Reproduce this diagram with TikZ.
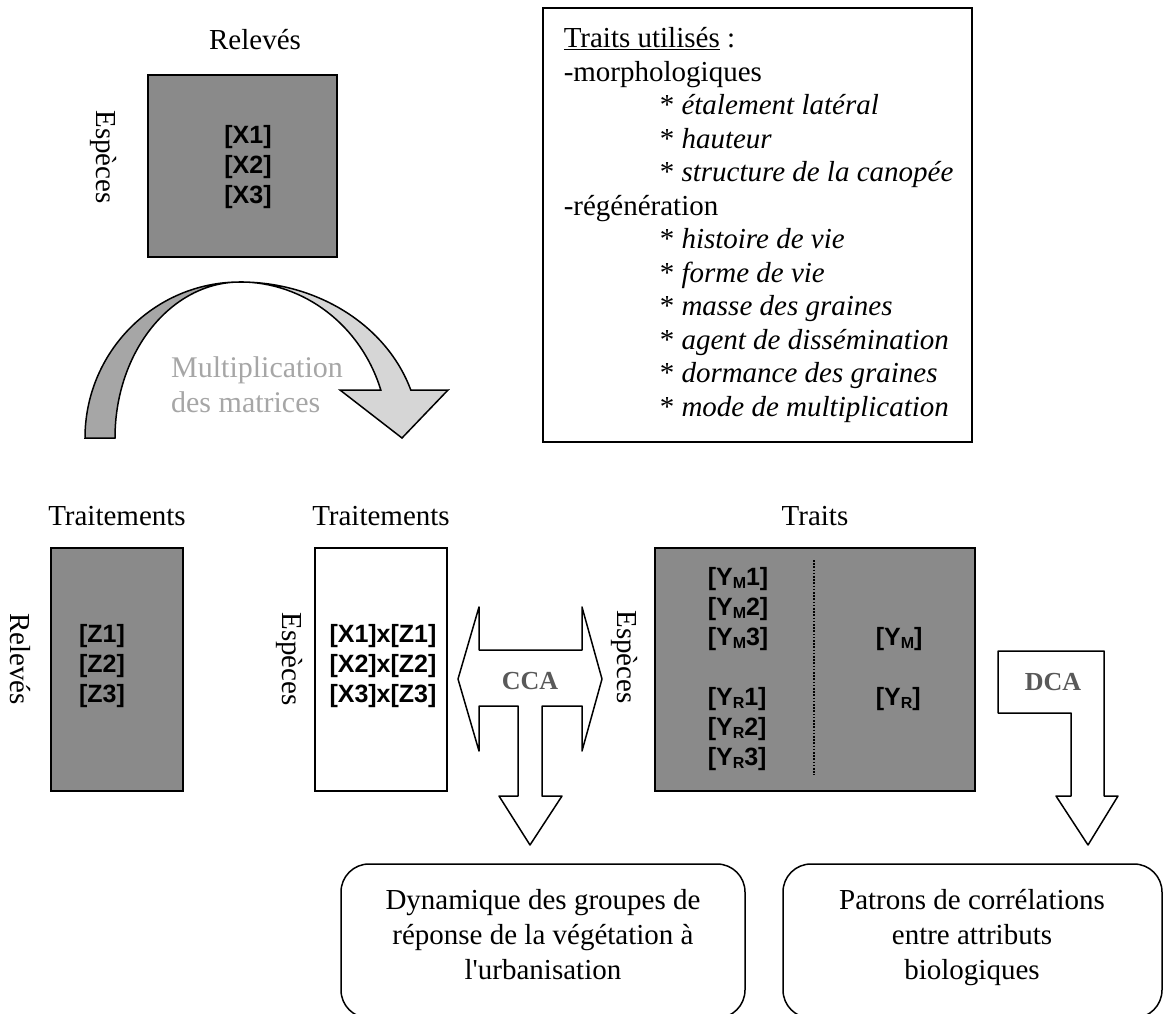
\documentclass[tikz,border=0pt]{standalone}
\usepackage{fontspec}
\setmainfont{Liberation Serif}
\setsansfont{Liberation Sans}
\newfontfamily\plainserif{Liberation Serif}
\usepackage{tkz-euclide}
\definecolor{MatrixClr}{rgb}{0.54,0.54,0.54}
\definecolor{BackClr}{rgb}{0.65,0.65,0.65}
\definecolor{FrontClr}{rgb}{0.84,0.84,0.84}
\definecolor{NoteClr}{rgb}{0.65,0.65,0.65}
\definecolor{MethodClr}{rgb}{0.35,0.35,0.35}
\newcommand{\subM}{\raisebox{-3pt}{\fontsize{16}{16}\selectfont M}}
\newcommand{\subR}{\raisebox{-3pt}{\fontsize{16}{16}\selectfont R}}

\begin{document}
\begin{tikzpicture}[x=1pt,y=1pt,line width=1.5pt]
\tikzset{lbl/.style={font=\fontsize{29}{33.5}\selectfont,inner sep=0pt},
  mat/.style={font=\fontsize{25}{30}\selectfont\sffamily\bfseries,inner sep=0pt,align=center},
  box/.style={draw,inner sep=0pt},
  method/.style={font=\fontsize{26}{30}\selectfont\bfseries,text=MethodClr,inner sep=0pt}}

\useasboundingbox (0,0) rectangle (1163,-1014);
\clip (0,0) rectangle (1163,-1014);

% matrice especes x releves
\node[box,fill=MatrixClr,minimum width=189,minimum height=182] (matX) at (242.5,-166) {};
\node[lbl] (relA) at (255,-40) {Relevés};
\node[lbl,rotate=-90] (espA) at (103,-157) {Espèces};
\node[mat] (xA) at (248,-167) {[X1]\\{[X2]}\\{[X3]}};

% fleche courbe
\draw[fill=BackClr] (85,-438) arc[start angle=180,end angle=90,x radius=155,y radius=156]
  arc[start angle=90,end angle=180,x radius=125,y radius=156] -- cycle;
\draw[fill=FrontClr] (240,-282) arc[start angle=90,end angle=17.9,x radius=179.5,y radius=156]
  -- (448,-390) -- (402,-438) -- (340,-390) -- (380.8,-390)
  arc[start angle=17.9,end angle=90,x radius=148,y radius=156] -- cycle;
\node[lbl,text=NoteClr,align=left,font=\fontsize{30}{35}\selectfont] (mult) at (257,-385) {Multiplication\\des matrices};

% liste des traits
\node[box,minimum width=429,minimum height=434] (list) at (757.5,-225) {};
\node[lbl,anchor=north west,align=left] (traits) at (563,-27) {\underline{Traits utilisés} :\\
-morphologiques\\
\hspace*{96pt}* \textit{étalement latéral}\\
\hspace*{96pt}* \textit{hauteur}\\
\hspace*{96pt}* \textit{structure de la canopée}\\
-régénération\\
\hspace*{96pt}* \textit{histoire de vie}\\
\hspace*{96pt}* \textit{forme de vie}\\
\hspace*{96pt}* \textit{masse des graines}\\
\hspace*{96pt}* \textit{agent de dissémination}\\
\hspace*{96pt}* \textit{dormance des graines}\\
\hspace*{96pt}* \textit{mode de multiplication}};

% matrice releves x traitements
\node[lbl] (trtA) at (117,-516) {Traitements};
\node[box,fill=MatrixClr,minimum width=132,minimum height=243] (matZ) at (117,-669.5) {};
\node[lbl,rotate=-90] (relB) at (20,-659) {Relevés};
\node[mat] (zA) at (102,-666) {[Z1]\\{[Z2]}\\{[Z3]}};

% matrice especes x traitements
\node[lbl] (trtB) at (381,-516) {Traitements};
\node[box,fill=white,minimum width=132,minimum height=243] (matXZ) at (381,-669.5) {};
\node[lbl,rotate=-90] (espB) at (289,-659) {Espèces};
\node[mat] (xzA) at (383,-666) {[X1]x[Z1]\\{[X2]x[Z2]}\\{[X3]x[Z3]}};

% fleche CCA
\tkzDefPoints{458/-679/C1,479/-607/C2,479/-650/C3,582/-650/C4,582/-607/C5,602/-679/C6,
  582/-751/C7,582/-706/C8,542/-706/C9,542/-796/C10,562/-796/C11,530/-845/C12,
  499/-796/C13,518/-796/C14,518/-706/C15,479/-706/C16,479/-751/C17}
\tkzDrawPolygon[draw=black,fill=white,line width=1.5pt](C1,C2,C3,C4,C5,C6,C7,C8,C9,C10,C11,C12,C13,C14,C15,C16,C17)
\node[method] (cca) at (530,-681) {CCA};

% matrice especes x traits
\node[lbl] (trY) at (815,-516) {Traits};
\node[box,fill=MatrixClr,minimum width=320,minimum height=243] (matY) at (815,-669.5) {};
\node[lbl,rotate=-90] (espC) at (624,-657) {Espèces};
\draw[line width=1.6pt,dash pattern=on 1.6pt off 1.6pt] (814,-560) -- (814,-775);
\node[mat,anchor=west,align=left] (yA) at (707,-669) {[Y\subM1]\\{[Y\subM2]}\\{[Y\subM3]}\\~\\{[Y\subR1]}\\{[Y\subR2]}\\{[Y\subR3]}};
\node[mat,anchor=west,align=left] (yB) at (875,-669) {[Y\subM]\\~\\{[Y\subR]}};

% fleche DCA
\tkzDefPoints{998/-651/D1,1104/-651/D2,1104/-796/D3,1118/-796/D4,1088/-845/D5,
  1056/-796/D6,1071/-796/D7,1071/-713/D8,998/-713/D9}
\tkzDrawPolygon[draw=black,fill=white,line width=1.5pt](D1,D2,D3,D4,D5,D6,D7,D8,D9)
\node[method] (dca) at (1053,-682) {DCA};

% resultats
\node[box,rounded corners=28pt,minimum width=404,minimum height=154] (resA) at (543,-941) {};
\node[lbl,anchor=north,align=center,font=\fontsize{29}{35}\selectfont] (resAtxt) at (543,-889) {Dynamique des groupes de\\réponse de la végétation à\\l{\plainserif'}urbanisation};
\node[box,rounded corners=28pt,minimum width=379,minimum height=154] (resB) at (972.5,-941) {};
\node[lbl,anchor=north,align=center,font=\fontsize{29}{35}\selectfont] (resBtxt) at (972,-889) {Patrons de corrélations\\entre attributs\\biologiques};
\end{tikzpicture}
\end{document}
